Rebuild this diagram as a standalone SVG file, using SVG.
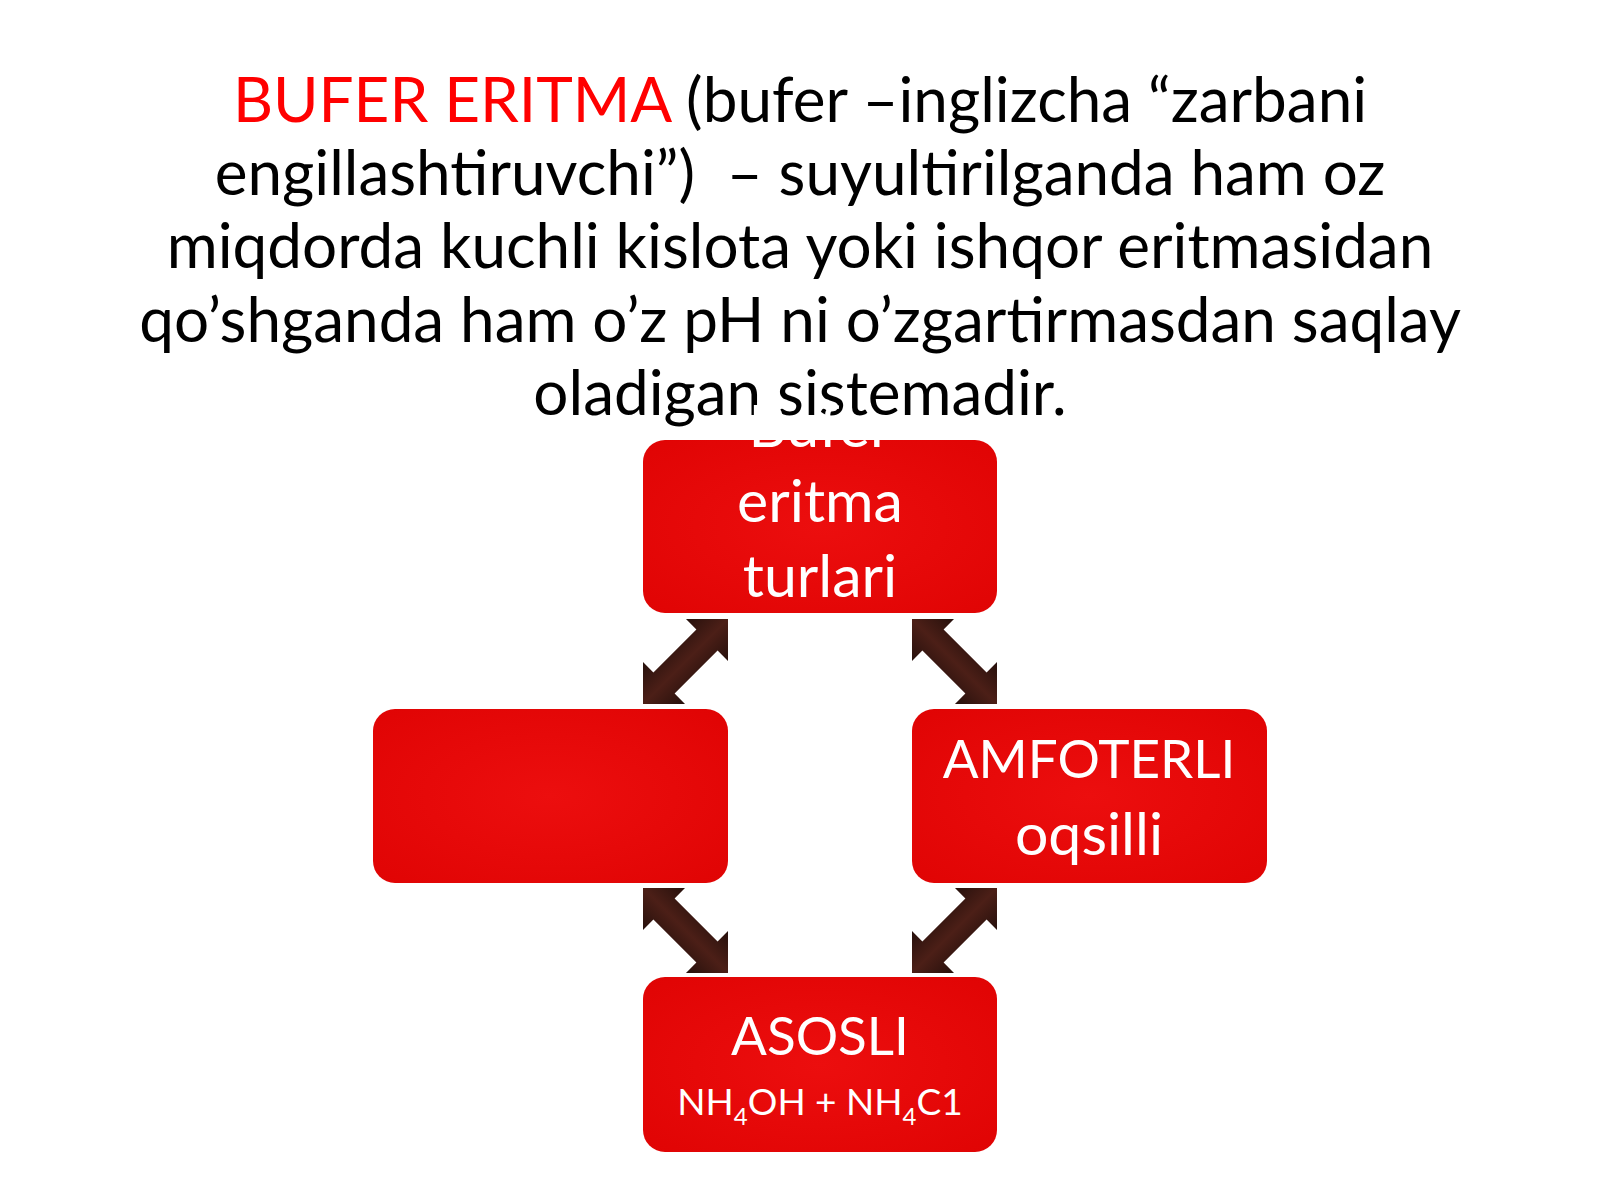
<svg xmlns="http://www.w3.org/2000/svg" width="1600" height="1200" viewBox="0 0 1600 1200">
<defs>
<style>
.title{font-family:Lato,"Liberation Sans",sans-serif;font-size:62px;fill:#000;text-anchor:middle;white-space:pre}
.red{fill:#ff0000}
.box{fill:url(#boxg)}
.lbl{font-family:Lato,"Liberation Sans",sans-serif;font-size:59px;fill:#fff;text-anchor:middle}
.cap{font-family:Lato,"Liberation Sans",sans-serif;font-size:53px;fill:#fff;text-anchor:middle}
.lbls{font-family:Lato,"Liberation Sans",sans-serif;font-size:37px;fill:#fff;text-anchor:middle}
.arr{fill:url(#arrg)}
</style>
<radialGradient id="boxg" cx="0.5" cy="0.5" r="0.7">
<stop offset="0" stop-color="#ec0e0e"/>
<stop offset="1" stop-color="#e00404"/>
</radialGradient>
<linearGradient id="arrg" gradientUnits="userSpaceOnUse" x1="0" y1="-30" x2="0" y2="30">
<stop offset="0" stop-color="#26100c"/>
<stop offset="0.5" stop-color="#4c1f17"/>
<stop offset="1" stop-color="#26100c"/>
</linearGradient>
<path id="dbl" d="M0,0 L29.7,-29.7 L29.7,-15 L90.5,-15 L90.5,-29.7 L120.2,0 L90.5,29.7 L90.5,15 L29.7,15 L29.7,29.7 Z"/>
</defs>
<rect x="0" y="0" width="1600" height="1200" fill="#fff"/>
<g id="title">
<text class="title" x="800" y="122"><tspan class="red">BUFER ERITMA</tspan> (bufer –inglizcha “zarbani</text>
<text class="title" x="800" y="195">engillashtiruvchi”)  – suyultirilganda ham oz</text>
<text class="title" x="800" y="268">miqdorda kuchli kislota yoki ishqor eritmasidan</text>
<text class="title" x="800" y="342">qo’shganda ham o’z pH ni o’zgartirmasdan saqlay</text>
<text class="title" x="800" y="415">oladigan sistemadir.</text>
</g>
<g id="connectors">
<use href="#dbl" class="arr" transform="translate(643,704) rotate(-45)"/>
<use href="#dbl" class="arr" transform="translate(912,619) rotate(45)"/>
<use href="#dbl" class="arr" transform="translate(643,888) rotate(45)"/>
<use href="#dbl" class="arr" transform="translate(912,973) rotate(-45)"/>
</g>
<g id="node-top">
<rect class="box" x="643" y="440" width="354" height="173" rx="22"/>
<text class="lbl" x="820" y="447">Bufer</text>
<text class="lbl" x="820" y="522">eritma</text>
<text class="lbl" x="820" y="597">turlari</text>
</g>
<g id="node-left">
<rect class="box" x="373" y="709" width="355" height="174" rx="22"/>
</g>
<g id="node-right">
<rect class="box" x="912" y="709" width="355" height="174" rx="22"/>
<text class="cap" x="1089" y="778">AMFOTERLI</text>
<text class="lbl" x="1089" y="855">oqsilli</text>
</g>
<g id="node-bottom">
<rect class="box" x="643" y="977" width="354" height="175" rx="22"/>
<text class="cap" x="820" y="1055">ASOSLI</text>
<text class="lbls" x="820" y="1115">NH<tspan font-size="24" dy="10">4</tspan><tspan dy="-10">OH + NH</tspan><tspan font-size="24" dy="10">4</tspan><tspan dy="-10">C1</tspan></text>
</g>
</svg>
